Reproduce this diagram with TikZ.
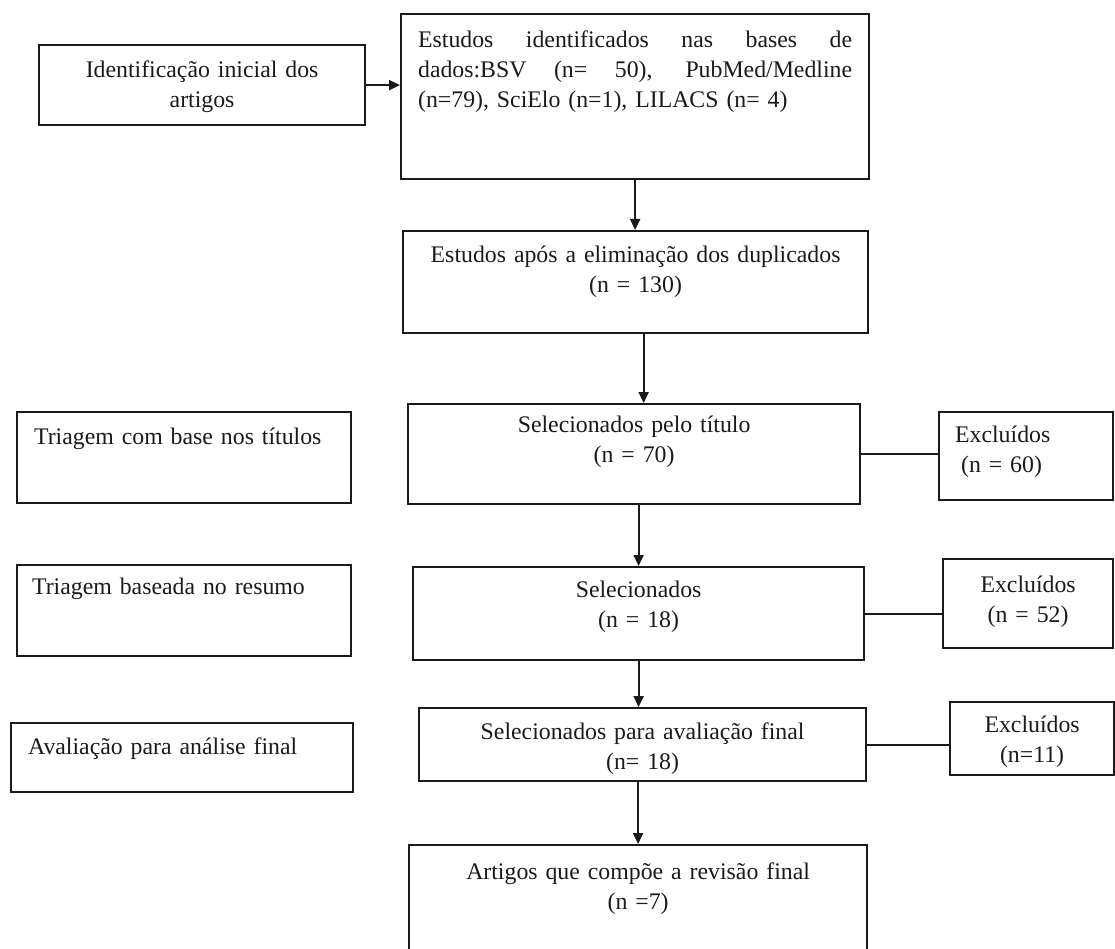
\documentclass[tikz,border=0pt]{standalone}
\usepackage{fontspec}
\setmainfont{Liberation Serif}
\usetikzlibrary{arrows.meta,positioning}
\definecolor{Ink}{HTML}{1A1A1A}
\newcommand{\fullline}[1]{\makebox[434pt][s]{\spaceskip=0.25em plus 1fil\relax #1}}

\begin{document}
\begin{tikzpicture}[
  x=1pt,y=-1pt,
  box/.style={draw=Ink,line width=2.2pt,text=Ink,anchor=north west,inner ysep=0pt,font=\fontsize{23.8}{30}\selectfont},
  boxc/.style={box,inner xsep=0pt,align=center},
  boxl/.style={box,inner xsep=17pt,align=left},
  arrow/.style={-{Triangle[length=11pt,width=10pt]},line width=2pt,draw=Ink},
  link/.style={line width=2.2pt,draw=Ink}
]
\useasboundingbox (0,0) rectangle (1115,949);
\node[boxc,text width=326pt,text height=32pt,text depth=48pt] (idf) at (38,44) {Identificação inicial dos\\artigos};
\node[boxl,text width=434pt,text height=33pt,text depth=132pt] (est) at (400,13) {\fullline{Estudos identificados nas bases de}\\\fullline{dados:BSV (n= 50), PubMed/Medline}\\(n=79), SciElo (n=1), LILACS (n= 4)};
\node[boxc,text width=465pt,text height=31pt,text depth=71pt] (dup) at (402,230) {Estudos após a eliminação dos duplicados\\(n = 130)};
\node[boxc,text width=452pt,text height=28pt,text depth=72pt] (tit) at (407,403) {Selecionados pelo título\\(n = 70)};
\node[boxc,text width=451pt,text height=30pt,text depth=63pt] (sel) at (412,566) {Selecionados\\(n = 18)};
\node[boxc,text width=447pt,text height=31pt,text depth=42pt] (fin) at (418,707) {Selecionados para avaliação final\\(n= 18)};
\node[boxc,text width=458pt,text height=34pt,text depth=82pt] (rev) at (408,844) {Artigos que compõe a revisão final\\(n =7)};
\node[boxl,text width=300pt,text height=32pt,text depth=59pt] (scrt) at (16,411) {Triagem com base nos títulos};
\node[boxl,inner xsep=15pt,text width=304pt,text height=29pt,text depth=62pt] (scra) at (16,564) {Triagem baseada no resumo};
\node[boxl,text width=308pt,text height=31pt,text depth=38pt] (evl) at (10,722) {Avaliação para análise final};
\node[boxl,inner xsep=16pt,text width=142pt,text height=30pt,text depth=58pt] (exct) at (938,411) {Excluídos\\\hspace*{6pt}(n = 60)};
\node[boxc,text width=170pt,text height=33pt,text depth=56pt] (exca) at (942,558) {Excluídos\\(n = 52)};
\node[boxc,text width=164pt,text height=30pt,text depth=43pt] (excf) at (949,701) {Excluídos\\(n=11)};
\draw[arrow] (idf.east) -- (idf.east -| est.west);
\draw[arrow] (est.south) -- (est.south |- dup.north);
\draw[arrow] ([xshift=8pt]dup.south) -- ([xshift=8pt]dup.south |- tit.north);
\draw[arrow] (sel.north |- tit.south) -- (sel.north);
\draw[arrow] (sel.south) -- (sel.south |- fin.north);
\draw[arrow] (rev.north |- fin.south) -- (rev.north);
\draw[link] (tit.east) -- (tit.east -| exct.west);
\draw[link] (sel.east) -- (sel.east -| exca.west);
\draw[link] (fin.east) -- (fin.east -| excf.west);
\end{tikzpicture}
\end{document}
